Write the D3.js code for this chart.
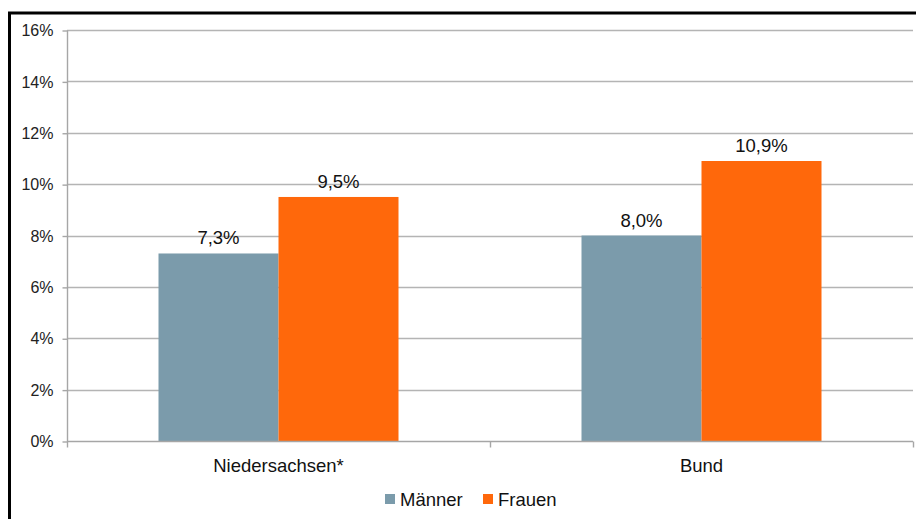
<!DOCTYPE html>
<html>
<head>
<meta charset="utf-8">
<script src="https://cdn.jsdelivr.net/npm/d3@7"></script>
<style>
  html, body { margin: 0; padding: 0; background: #fff; }
  svg { display: block; font-family: "Liberation Sans", Arial, sans-serif; }
</style>
</head>
<body>
<svg id="chart" width="916" height="519"></svg>
<script>
// Anteil nach Geschlecht, Niedersachsen und Bund
const categories = ["Niedersachsen*", "Bund"];
const seriesNames = ["Männer", "Frauen"];
const maenner = [7.3, 8.0];
const frauen = [9.5, 10.9];
const yTicks = [0, 2, 4, 6, 8, 10, 12, 14, 16];
const colors = ["#7b9bab", "#ff680b"];

const svg = d3.select("#chart");
const plot = { left: 67, right: 913, top: 30, bottom: 441 };

// outer frame
svg.append("rect")
  .attr("x", 9.5).attr("y", 13)
  .attr("width", 1000).attr("height", 1000)
  .attr("fill", "none").attr("stroke", "#000").attr("stroke-width", 3);

const x0 = d3.scaleBand().domain(categories).range([plot.left, plot.right]).paddingInner(0).paddingOuter(0);
const x1 = d3.scaleBand().domain(seriesNames).range([0, x0.bandwidth()]).paddingInner(0).paddingOuter(0.7625);
const y = d3.scaleLinear().domain([0, 16]).range([plot.bottom, plot.top]);

const fmt = v => d3.format(".1f")(v).replace(".", ",") + "%";

// gridlines
svg.append("g").selectAll("line").data(yTicks.filter(t => t > 0)).join("line")
  .attr("x1", plot.left).attr("x2", plot.right)
  .attr("y1", d => Math.round(y(d)) + 0.5).attr("y2", d => Math.round(y(d)) + 0.5)
  .attr("stroke", "#b4b4b4").attr("stroke-width", 1.4);

// y axis
const yAxis = d3.axisLeft(y).tickValues(yTicks).tickSize(5).tickPadding(9)
  .tickFormat(d => d + "%");
const gy = svg.append("g").attr("transform", `translate(${plot.left + 0.5},0.5)`).call(yAxis);
gy.select(".domain").attr("stroke", "#a6a6a6").attr("stroke-width", 1.4).attr("d", `M0,${plot.top}V${plot.bottom}`);
gy.selectAll(".tick line").attr("stroke", "#a6a6a6").attr("stroke-width", 1.4);
gy.selectAll(".tick text").attr("font-size", 16).attr("fill", "#222")
  .attr("font-family", "Liberation Sans, Arial, sans-serif");

// bars
const groups = svg.append("g").selectAll("g").data(categories).join("g")
  .attr("transform", d => `translate(${x0(d)},0)`);
const rows = (c, i) => [
  { s: seriesNames[0], v: maenner[i], c: colors[0] },
  { s: seriesNames[1], v: frauen[i], c: colors[1] }
];
groups.selectAll("rect").data((c, i) => rows(c, i)).join("rect")
  .attr("x", d => x1(d.s)).attr("width", x1.bandwidth())
  .attr("y", d => y(d.v)).attr("height", d => y(0) - y(d.v))
  .attr("fill", d => d.c);

// value labels
groups.selectAll("text").data((c, i) => rows(c, i)).join("text")
  .attr("x", d => x1(d.s) + x1.bandwidth() / 2)
  .attr("y", d => y(d.v) - 9)
  .attr("text-anchor", "middle").attr("font-size", 18.5).attr("fill", "#111")
  .text(d => fmt(d.v));

// x axis
const xAxis = d3.axisBottom(x0).tickSize(0).tickPadding(17);
const gx = svg.append("g").attr("transform", `translate(0,${plot.bottom + 0.5})`).call(xAxis);
gx.select(".domain").attr("stroke", "#a6a6a6").attr("stroke-width", 1.4).attr("d", `M${plot.left},0H${plot.right}`);
gx.selectAll(".tick text").attr("font-size", 18.5).attr("fill", "#111")
  .attr("font-family", "Liberation Sans, Arial, sans-serif");
// category separators
const seps = [plot.left, x0(categories[1]), plot.right];
gx.selectAll("line.sep").data(seps).join("line").attr("class", "sep")
  .attr("x1", d => Math.round(d) + 0.5).attr("x2", d => Math.round(d) + 0.5)
  .attr("y1", 0).attr("y2", 6)
  .attr("stroke", "#a6a6a6").attr("stroke-width", 1.4);

// legend
const legend = svg.append("g");
const legendItems = [
  { name: seriesNames[0], color: colors[0], x: 385 },
  { name: seriesNames[1], color: colors[1], x: 483 }
];
const li = legend.selectAll("g").data(legendItems).join("g")
  .attr("transform", d => `translate(${d.x},494)`);
li.append("rect").attr("width", 10).attr("height", 10).attr("fill", d => d.color);
li.append("text").attr("x", 15).attr("y", 11.5).attr("font-size", 18.5).attr("fill", "#111")
  .text(d => d.name);
</script>
</body>
</html>
